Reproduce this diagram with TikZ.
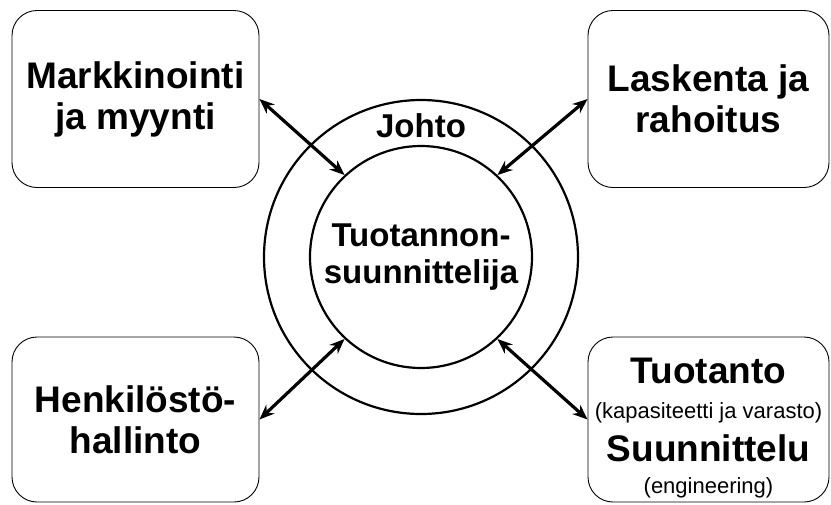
\documentclass[tikz,border=0pt]{standalone}
\usepackage{fontspec}
\setmainfont{Liberation Sans}
\usetikzlibrary{positioning,arrows.meta}
\newcommand{\bigbold}{\fontsize{37}{41}\selectfont\bfseries}
\newcommand{\midbold}{\fontsize{33}{37}\selectfont\bfseries}
\newcommand{\smallnote}{\fontsize{22}{26}\selectfont\mdseries}

\begin{document}
\begin{tikzpicture}[%
    x=1pt,
    y=-1pt,
    >={Stealth[length=15pt,width=12pt]},
    dept/.style={%
      draw,
      line width=0.9pt,
      rounded corners=25pt,
      minimum width=247pt,
      minimum height=177pt,
      align=center,
      font=\bigbold
    },
    ring/.style={%
      circle,
      draw,
      line width=2.2pt,
      inner sep=0pt
    },
    link/.style={<->, line width=3.2pt}
  ]
    \useasboundingbox (0,0) rectangle (831,504);
    \node[ring, minimum size=314pt] (outer) at (421,257) {};
    \node[ring, minimum size=222pt, align=center, font=\midbold] (inner) at (421,257) {Tuotannon-\\suunnittelija};
    \node[font=\midbold] (johto) at (421,126) {Johto};

    \node[dept] (market) at (135.5,99) {Markkinointi\\ja myynti};
    \node[dept, minimum width=241pt] (finance) at (708.5,99) {Laskenta ja\\rahoitus};
    \node[dept, minimum height=165pt] (staff) at (135.5,419.5) {Henkilöstö-\\hallinto};
    \node[dept, minimum width=241pt, minimum height=165pt] (prod) at (708.5,419.5)
      {\rule{0pt}{42pt}Tuotanto\\[-6pt]{\smallnote(kapasiteetti ja varasto)}\\[2pt]Suunnittelu\\[-9pt]{\smallnote(engineering)}};

    \draw[link] (market.east) -- (inner.133);
    \draw[link] (finance.west) -- (inner.47);
    \draw[link] (staff.east) -- (inner.227);
    \draw[link] (prod.west) -- (inner.313);
  \end{tikzpicture}
\end{document}
